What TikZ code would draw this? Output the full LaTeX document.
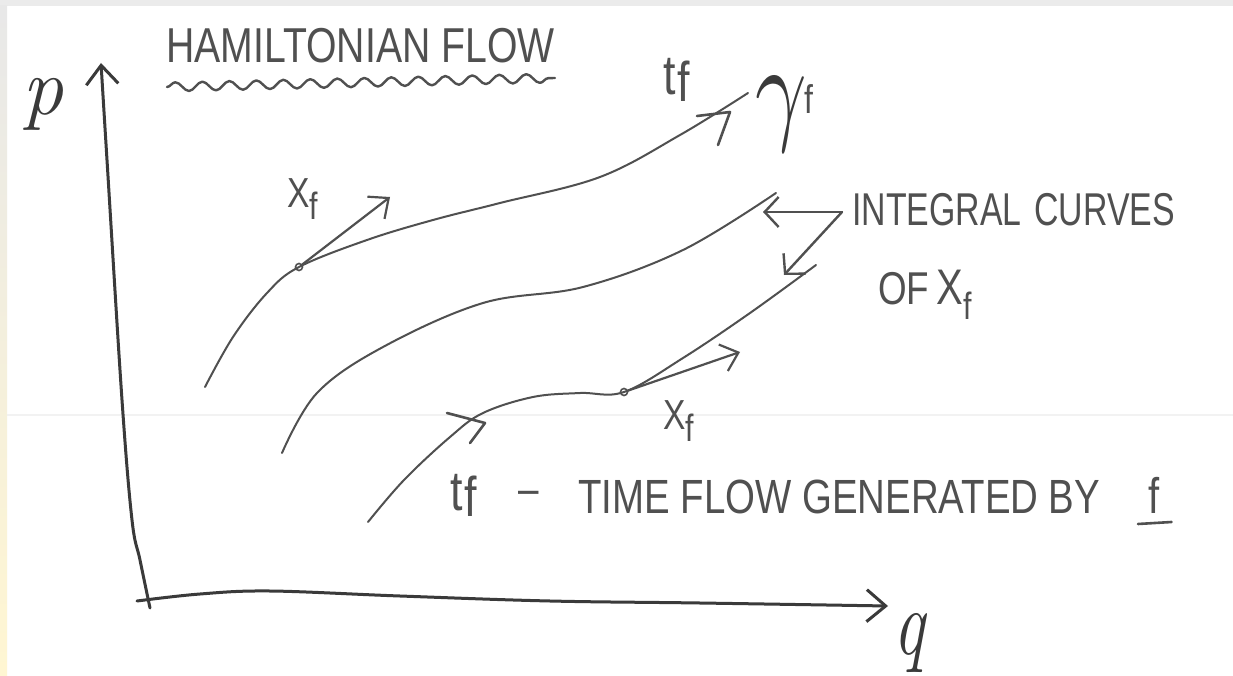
\documentclass[tikz,border=0pt]{standalone}
\usepackage{fontspec}
\newfontfamily\hand[FakeStretch=0.8]{Liberation Sans}
\usetikzlibrary{arrows.meta,decorations.pathmorphing}
\definecolor{ink}{HTML}{505050}
\definecolor{inkdark}{HTML}{3A3A3A}
\definecolor{paper}{HTML}{FFF6D2}
\newcommand\handtf{t\kern2pt\raisebox{-.12em}{f}}
\newcommand\handXf{X\raisebox{-.3em}{\fontsize{38}{38}\selectfont f}}
\begin{document}
\begin{tikzpicture}[x=1pt,y=-1pt,
  flowline/.style={ink, line width=2pt, line cap=round, line join=round},
  axisline/.style={inkdark, line width=3pt, line cap=round, -{Straight Barb[length=19pt,width=32pt,line width=3pt]}},
  vecarr/.style={flowline, line width=2.2pt, -{Straight Barb[length=16pt,width=28pt]}},
  annarr/.style={flowline, line width=2.4pt, -{Straight Barb[length=14pt,width=30pt]}},
  hooks/.style={ink, line width=2.6pt, line cap=round, line join=round},
  handtxt/.style={ink, inner sep=0pt, font=\hand\fontsize{46}{46}\selectfont},
  dotmark/.style={circle, draw=ink, line width=1.6pt, inner sep=0pt, minimum size=7pt}]
\useasboundingbox (0,0) rectangle (1233,676);
\fill[white] (0,0) rectangle (1233,676);
\fill[black!8] (0,0) rectangle (1233,6);
\shade[top color=black!9, bottom color=paper] (0,6) rectangle (7,676);
\draw[black!5, line width=1.5pt] (7,415) -- (1233,415);

% title
\node[handtxt, anchor=base west] (title) at (166,63) {\fontsize{49}{49}\selectfont HAMILTONIAN FLOW};
\draw[flowline, line width=2.4pt, decorate, decoration={snake, segment length=27pt, amplitude=4.5pt}] (167,87) -- (555,78);

% axes
\coordinate (origin) at (150,608);
\coordinate (ptip) at (101,63);
\coordinate (qstart) at (137,601);
\coordinate (qtip) at (888,606);
\draw[axisline] plot[smooth, tension=0.6] coordinates {(origin) (140,560) (132,520) (122,400) (107,160) (ptip)};
\draw[axisline] plot[smooth, tension=0.6] coordinates {(qstart) (200,594) (270,591) (400,596) (550,601) (700,603) (qtip)};
\node[inkdark, inner sep=0pt, anchor=north west] (plabel) at (22,78) {\fontsize{82}{82}\selectfont\itshape p};
\node[inkdark, inner sep=0pt, anchor=north west, yscale=1.33] (qlabel) at (893,613) {\fontsize{70}{70}\selectfont\itshape q};

% integral curves
\draw[flowline] plot[smooth, tension=0.6] coordinates {(205,387) (233,337) (267,293) (299,267) (367,240) (433,220) (500,203) (600,177) (680,135) (748,93)};
\draw[flowline] plot[smooth, tension=0.6] coordinates {(282,453) (317,393) (383,347) (483,303) (583,287) (683,250) (776,193)};
\draw[flowline] plot[smooth, tension=0.6] coordinates {(368,522) (404,480) (450,437) (483,413) (533,397) (580,393) (624,392) (683,358) (750,313) (816,265)};

% vectors X_f
\node[dotmark] (d1) at (299,267) {};
\node[dotmark] (d2) at (624,392) {};
\coordinate (v1) at (390,197);
\coordinate (v2) at (740,352);
\draw[vecarr] (d1) -- (v1);
\draw[vecarr] (d2) -- (v2);
\node[handtxt, anchor=north west] (xf1) at (287,178) {\fontsize{42}{42}\selectfont\handXf};
\node[handtxt, anchor=north west] (xf2) at (663,400) {\fontsize{42}{42}\selectfont\handXf};

% time flow hooks
\draw[hooks] (697,116) -- (730,112) -- (718,145);
\draw[hooks] (447,413) -- (485,423) -- (470,443);
\node[handtxt, anchor=north west] (tf1) at (663,58) {\fontsize{56}{56}\selectfont\handtf};
\node[inkdark, inner sep=0pt, anchor=north west] (gam) at (755,77) {\scalebox{9}[12]{$\gamma$}};
\node[handtxt, anchor=north west] (gf) at (804,84) {\fontsize{40}{40}\selectfont f};

% integral curves annotation
\coordinate (junc) at (842,212);
\coordinate (tip1) at (763,212);
\coordinate (tip2) at (784,275);
\draw[annarr] (junc) -- (tip1);
\draw[annarr] (junc) -- (tip2);
\node[handtxt, anchor=base west, xscale=0.92] (ic) at (852,226) {INTEGRAL\hspace{14pt}CURVES};
\node[handtxt, anchor=base west] (ofxf) at (878,304) {OF\,\fontsize{50}{50}\selectfont\handXf};

% bottom caption
\node[handtxt, anchor=base west] (tfb) at (450,510) {\fontsize{56}{56}\selectfont\handtf};
\node[handtxt, anchor=base west] (dash) at (518,504) {\textendash};
\node[handtxt, anchor=base west] (tfg) at (578,513) {\fontsize{48}{48}\selectfont TIME FLOW GENERATED BY};
\node[handtxt, anchor=base west] (fby) at (1148,513) {\fontsize{50}{50}\selectfont f};
\draw[hooks] ([xshift=-10pt,yshift=-11pt]fby.base west) -- ([xshift=12pt,yshift=-9pt]fby.base east);
\end{tikzpicture}
\end{document}
